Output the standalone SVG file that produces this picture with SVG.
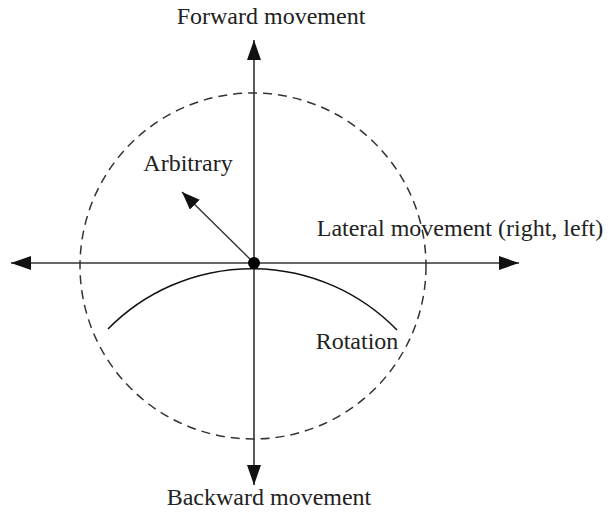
<svg xmlns="http://www.w3.org/2000/svg" width="608" height="523" viewBox="0 0 608 523">
<style>
text{font-family:"Liberation Serif","Times New Roman",serif;font-size:24px;fill:#222}
.ax{stroke:#333;stroke-width:1.6;fill:none}
</style>
<defs>
<marker id="ah" markerUnits="userSpaceOnUse" viewBox="0 0 20 14" refX="20" refY="7" markerWidth="20" markerHeight="14" orient="auto"><path d="M0,0 L20,7 L0,14 Z" fill="#111"/></marker>
<marker id="ahs" markerUnits="userSpaceOnUse" viewBox="0 0 18 14" refX="18" refY="7" markerWidth="18" markerHeight="14" orient="auto"><path d="M0,0 L18,7 L0,14 Z" fill="#111"/></marker>
</defs>
<rect width="608" height="523" fill="#fff"/>
<g id="circle"><circle cx="253" cy="266" r="173" fill="none" stroke="#333" stroke-width="1.5" stroke-dasharray="9,6"/></g>
<g id="connectors">
<line class="ax" x1="254" y1="263" x2="254" y2="40" marker-end="url(#ah)"/>
<line class="ax" x1="254" y1="263" x2="254" y2="485" marker-end="url(#ah)"/>
<line class="ax" x1="254" y1="263" x2="11" y2="263" marker-end="url(#ah)"/>
<line class="ax" x1="254" y1="263" x2="519" y2="263" marker-end="url(#ah)"/>
<line x1="254" y1="263" x2="182" y2="192" stroke="#333" stroke-width="1.4" marker-end="url(#ahs)"/>
<path d="M108,329 A202,202 0 0 1 397,330" fill="none" stroke="#111" stroke-width="1.5"/>
</g>
<g id="center"><circle cx="254" cy="263" r="6" fill="#000"/></g>
<g id="labels">
<text x="271" y="24" text-anchor="middle">Forward movement</text>
<text x="188" y="171" text-anchor="middle">Arbitrary</text>
<text x="460" y="236" text-anchor="middle">Lateral movement (right, left)</text>
<text x="357" y="349" text-anchor="middle">Rotation</text>
<text x="269" y="505" text-anchor="middle">Backward movement</text>
</g>
</svg>
